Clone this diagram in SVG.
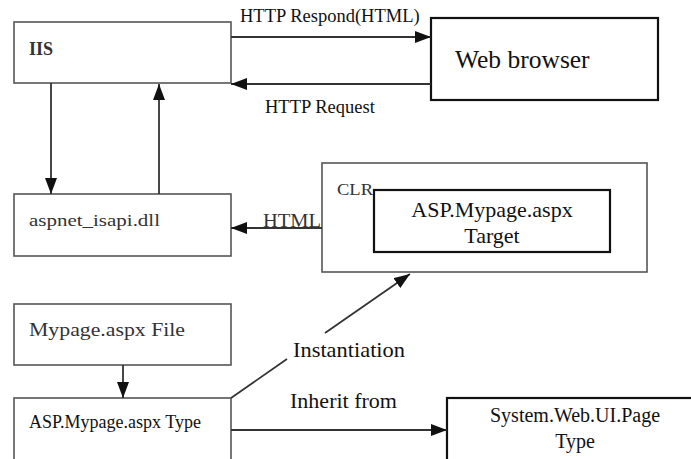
<svg xmlns="http://www.w3.org/2000/svg" width="691" height="459" viewBox="0 0 691 459">
<defs>
<marker id="ah" markerUnits="userSpaceOnUse" markerWidth="16" markerHeight="12" refX="16" refY="6" orient="auto">
<path d="M0,0 L16,6 L0,12 z" fill="#111"/>
</marker>
<style>
.gbox{fill:#fff;stroke:#555;stroke-width:1.6}
.bbox{fill:#fff;stroke:#111;stroke-width:2.2}
.conn{fill:none;stroke:#333;stroke-width:1.8}
.t{font-family:"Liberation Serif","Times New Roman",serif;fill:#111}
.s{font-family:"Liberation Serif","Noto Sans CJK SC",serif;fill:#333}
</style>
</defs>
<rect width="691" height="459" fill="#fff"/>
<g id="iis"><rect class="gbox" x="14" y="22" width="217" height="61"/><text class="s" x="29" y="55" font-size="18" font-weight="bold">IIS</text></g>
<g id="browser"><rect class="bbox" x="431" y="18" width="227" height="82"/><text class="t" x="455" y="68" font-size="25.5">Web browser</text></g>
<g id="aspnet"><rect class="gbox" x="14" y="194" width="217" height="62"/><text class="s" x="29" y="226" font-size="17" textLength="131" lengthAdjust="spacingAndGlyphs">aspnet_isapi.dll</text></g>
<g id="clr"><rect class="gbox" x="322" y="163" width="325" height="109"/><text class="s" x="337" y="195" font-size="17" fill="#555" textLength="36" lengthAdjust="spacingAndGlyphs">CLR</text></g>
<g id="target"><rect class="bbox" x="374" y="190" width="236" height="62"/><text class="t" x="492" y="217" font-size="22" text-anchor="middle">ASP.Mypage.aspx</text><text class="t" x="492" y="243" font-size="22" text-anchor="middle">Target</text></g>
<g id="file"><rect class="gbox" x="14" y="304" width="217" height="61"/><text class="s" x="29" y="336" font-size="18" textLength="156" lengthAdjust="spacingAndGlyphs">Mypage.aspx  File</text></g>
<g id="type"><rect class="gbox" x="14" y="398" width="217" height="70"/><text class="t" x="29" y="428" font-size="18">ASP.Mypage.aspx Type</text></g>
<g id="page"><rect class="bbox" x="447" y="398" width="250" height="70"/><text class="t" x="575" y="422" font-size="20" text-anchor="middle">System.Web.UI.Page</text><text class="t" x="575" y="448" font-size="20" text-anchor="middle">Type</text></g>
<g id="connectors">
<line class="conn" x1="231" y1="37" x2="431" y2="37" marker-end="url(#ah)"/>
<line class="conn" x1="431" y1="84" x2="231" y2="84" marker-end="url(#ah)"/>
<line class="conn" x1="51" y1="83" x2="51" y2="194" marker-end="url(#ah)"/>
<line class="conn" x1="159" y1="194" x2="159" y2="84" marker-end="url(#ah)"/>
<line class="conn" x1="322" y1="228" x2="231" y2="228" marker-end="url(#ah)"/>
<line class="conn" x1="123" y1="365" x2="123" y2="398" marker-end="url(#ah)"/>
<line class="conn" x1="231" y1="430" x2="447" y2="430" marker-end="url(#ah)"/>
<line class="conn" x1="231" y1="398" x2="287" y2="359"/>
<line class="conn" x1="325" y1="333" x2="410" y2="274" marker-end="url(#ah)"/>
<text class="t" x="240" y="22" font-size="18.5">HTTP Respond(HTML)</text>
<text class="t" x="265" y="113" font-size="18.5">HTTP Request</text>
<text class="s" x="263" y="227" font-size="19" textLength="58" lengthAdjust="spacingAndGlyphs">HTML</text>
<text class="t" x="293" y="357" font-size="21" textLength="112" lengthAdjust="spacingAndGlyphs">Instantiation</text>
<text class="t" x="290" y="408" font-size="21" textLength="107" lengthAdjust="spacingAndGlyphs">Inherit from</text>
</g>
</svg>
